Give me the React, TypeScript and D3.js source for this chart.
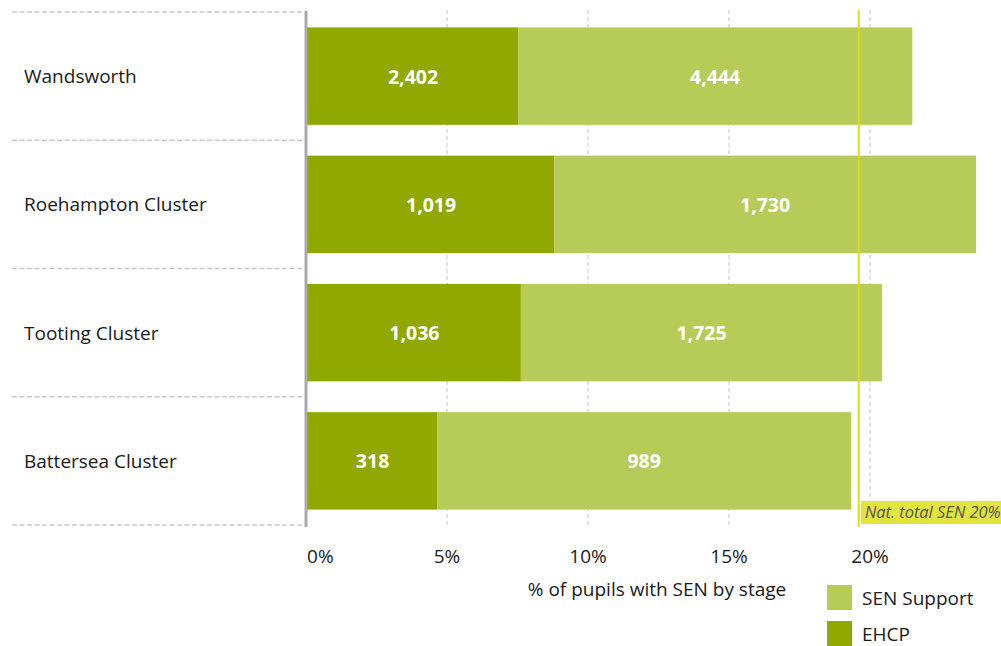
import React from "react";
import * as d3 from "d3";

const categories = ["Wandsworth", "Roehampton Cluster", "Tooting Cluster", "Battersea Cluster"];
const ehcpPct = [7.52, 8.8, 7.62, 4.65];
const supportPct = [13.98, 14.96, 12.81, 14.68];
const ehcpCount = ["2,402", "1,019", "1,036", "318"];
const supportCount = ["4,444", "1,730", "1,725", "989"];
const ticks = [0, 5, 10, 15, 20];
const natValue = 19.6;
const natLabel = "Nat. total SEN 20%";
const axisTitle = "% of pupils with SEN by stage";
const legendItems = [
  { label: "SEN Support", key: "support" },
  { label: "EHCP", key: "ehcp" },
];

const W = 1001;
const H = 646;
const FONT = "'Open Sans', 'Noto Sans', sans-serif";
const FS = 19;
const C_EHCP = "#90a800";
const C_SUP = "#b7cb59";
const C_NAT = "#dcdc1e";

export default function App() {
  const x = d3.scaleLinear().domain([0, 25]).range([306, 306 + 25 * 28.2]);
  const y = d3.scaleBand<string>().domain(categories).range([12, 525]).paddingInner(0.24).paddingOuter(0.12);
  const step = y.step();
  const top = 10;
  const bottom = 527;

  return (
    <svg width={W} height={H} style={{ position: "absolute", left: 0, top: 0, background: "#fff" }} fontFamily={FONT}>
      {/* category dividers */}
      {d3.range(categories.length + 1).map((i) => (
        <line key={"div" + i} x1={12} x2={302} y1={12 + i * step} y2={12 + i * step}
          stroke="#c8c8c8" strokeWidth={1.5} strokeDasharray="5,2.5" />
      ))}
      {/* gridlines */}
      {ticks.filter((t) => t > 0).map((t) => (
        <line key={"g" + t} x1={x(t)} x2={x(t)} y1={top} y2={bottom} stroke="#d2d2d2" strokeWidth={1.3} strokeDasharray="4,3" />
      ))}
      {/* bars */}
      {categories.map((c, i) => {
        const y0 = y(c)!;
        const bh = y.bandwidth();
        const xe = x(ehcpPct[i]);
        const xs = x(ehcpPct[i] + supportPct[i]);
        return (
          <g key={c}>
            <rect x={x(0)} y={y0} width={xe - x(0)} height={bh} fill={C_EHCP} />
            <rect x={xe} y={y0} width={xs - xe} height={bh} fill={C_SUP} />
            <text x={(x(0) + xe) / 2 + 1} y={y0 + bh / 2} textAnchor="middle" dominantBaseline="central"
              fill="#fff" fontWeight="bold" fontSize={19.5}>{ehcpCount[i]}</text>
            <text x={(xe + xs) / 2} y={y0 + bh / 2} textAnchor="middle" dominantBaseline="central"
              fill="#fff" fontWeight="bold" fontSize={19.5}>{supportCount[i]}</text>
            <text x={24} y={y0 + bh / 2} dominantBaseline="central" fill="#1a1a1a" fontSize={FS}>{c}</text>
          </g>
        );
      })}
      {/* axis line */}
      <line x1={306} x2={306} y1={11} y2={bottom} stroke="#aaaaaa" strokeWidth={3} />
      {/* national line */}
      <line x1={x(natValue)} x2={x(natValue)} y1={top} y2={bottom} stroke={C_NAT} strokeWidth={2} />
      <rect x={x(natValue) + 2} y={501} width={W - x(natValue) - 2} height={23} fill="#e3e43c" />
      <text x={x(natValue) + 6} y={518} fontStyle="italic" fontSize={16.4} fill="#555">{natLabel}</text>
      {/* tick labels */}
      {ticks.map((t) => (
        <text key={"t" + t} x={t === 0 ? x(0) + 1 : x(t)} y={563} textAnchor={t === 0 ? "start" : "middle"}
          fontSize={FS} fill="#1a1a1a">{t}%</text>
      ))}
      <text x={657} y={596} textAnchor="middle" fontSize={FS} fill="#1a1a1a">{axisTitle}</text>
      {/* legend */}
      {legendItems.map((l, i) => (
        <g key={l.key}>
          <rect x={827} y={585 + i * 36} width={25} height={25} fill={l.key === "ehcp" ? C_EHCP : C_SUP} />
          <text x={862} y={585 + i * 36 + 12.5} dominantBaseline="central" fontSize={FS} fill="#1a1a1a">{l.label}</text>
        </g>
      ))}
    </svg>
  );
}
